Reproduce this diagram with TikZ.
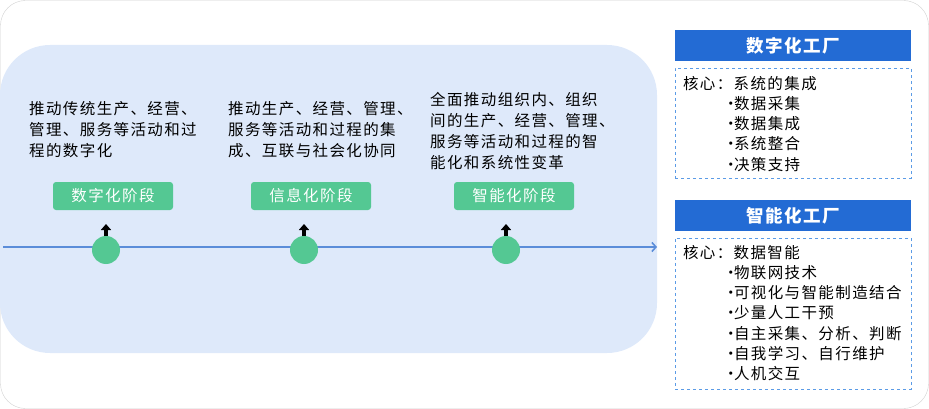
\documentclass[tikz,border=0pt]{standalone}
\usepackage{fontspec}
\setmainfont{Noto Sans CJK SC}[LetterSpace=9]
\usetikzlibrary{arrows.meta, positioning}
\definecolor{tlblue}{RGB}{91,141,217}
\definecolor{bgblue}{RGB}{222,233,250}
\definecolor{stagegreen}{RGB}{84,200,147}
\definecolor{hdrblue}{RGB}{35,107,212}
\definecolor{dashblue}{RGB}{91,155,230}
\definecolor{framegray}{RGB}{208,208,208}
\newcommand{\coreitem}[1]{\hspace*{40pt}\makebox[11pt][l]{·}#1}

\begin{document}
\begin{tikzpicture}[
    x=1pt, y=-1pt,
    desc/.style={anchor=north west, align=left, inner sep=0pt, font=\fontsize{15.5}{21}\selectfont},
    stagebox/.style={rectangle, fill=stagegreen, rounded corners=3pt, minimum width=120pt, minimum height=28pt, inner sep=0pt, text=white, font=\fontsize{15.5}{16}\selectfont},
    milestone/.style={circle, fill=stagegreen, minimum size=28pt, inner sep=0pt},
    uparr/.style={-{Triangle[width=10pt,length=6pt]}, line width=3.5pt, black},
    timeline/.style={-{Straight Barb[length=4pt,width=9pt]}, line width=1.6pt, tlblue},
    hdr/.style={rectangle, fill=hdrblue, minimum width=236pt, minimum height=31pt, inner sep=0pt, text=white, font=\fontsize{17.5}{18}\selectfont\bfseries},
    corebox/.style={rectangle, draw=dashblue, dashed, minimum width=236pt, inner sep=0pt},
    coretext/.style={anchor=north west, align=left, inner sep=0pt, font=\fontsize{15.5}{20.3}\selectfont}
]
    \useasboundingbox (0,0) rectangle (929,409);
    % Outer frame and panel
    \draw[framegray, rounded corners=25pt] (0.5,0.5) rectangle (928.5,408.5);
    \fill[bgblue, rounded corners=50pt] (0,45) rectangle (657,353);

    % Stage descriptions
    \node[desc] (d1) at (29,101) {推动传统生产、经营、\\管理、服务等活动和过\\程的数字化};
    \node[desc] (d2) at (228,101) {推动生产、经营、管理、\\服务等活动和过程的集\\成、互联与社会化协同};
    \node[desc] (d3) at (430,92) {全面推动组织内、组织\\间的生产、经营、管理、\\服务等活动和过程的智\\能化和系统性变革};

    % Stages
    \node[stagebox] (s1) at (113,196) {数字化阶段};
    \node[stagebox] (s2) at (311,196) {信息化阶段};
    \node[stagebox] (s3) at (514,196) {智能化阶段};

    % Timeline
    \coordinate (tl_start) at (3,247);
    \coordinate (tl_end) at (657,247);
    \draw[timeline] (tl_start) -- (tl_end);

    \node[milestone] (m1) at (106,250) {};
    \node[milestone] (m2) at (304,250) {};
    \node[milestone] (m3) at (506,250) {};

    \coordinate (a1) at (106,224);
    \coordinate (a2) at (304,224);
    \coordinate (a3) at (506,224);
    \draw[uparr] (m1.north) -- (a1);
    \draw[uparr] (m2.north) -- (a2);
    \draw[uparr] (m3.north) -- (a3);

    % Digital factory
    \node[hdr] (h1) at (793,45.5) {数字化工厂};
    \node[corebox, minimum height=110pt] (c1) at (793,123) {};
    \node[coretext] (t1) at ([shift={(8,8)}]c1.north west) {核心：系统的集成\\\coreitem{数据采集}\\\coreitem{数据集成}\\\coreitem{系统整合}\\\coreitem{决策支持}};

    % Intelligent factory
    \node[hdr] (h2) at (793,215.5) {智能化工厂};
    \node[corebox, minimum height=151pt] (c2) at (793,313.5) {};
    \node[coretext] (t2) at ([shift={(8,7)}]c2.north west) {核心：数据智能\\\coreitem{物联网技术}\\\coreitem{可视化与智能制造结合}\\\coreitem{少量人工干预}\\\coreitem{自主采集、分析、判断}\\\coreitem{自我学习、自行维护}\\\coreitem{人机交互}};
\end{tikzpicture}
\end{document}
